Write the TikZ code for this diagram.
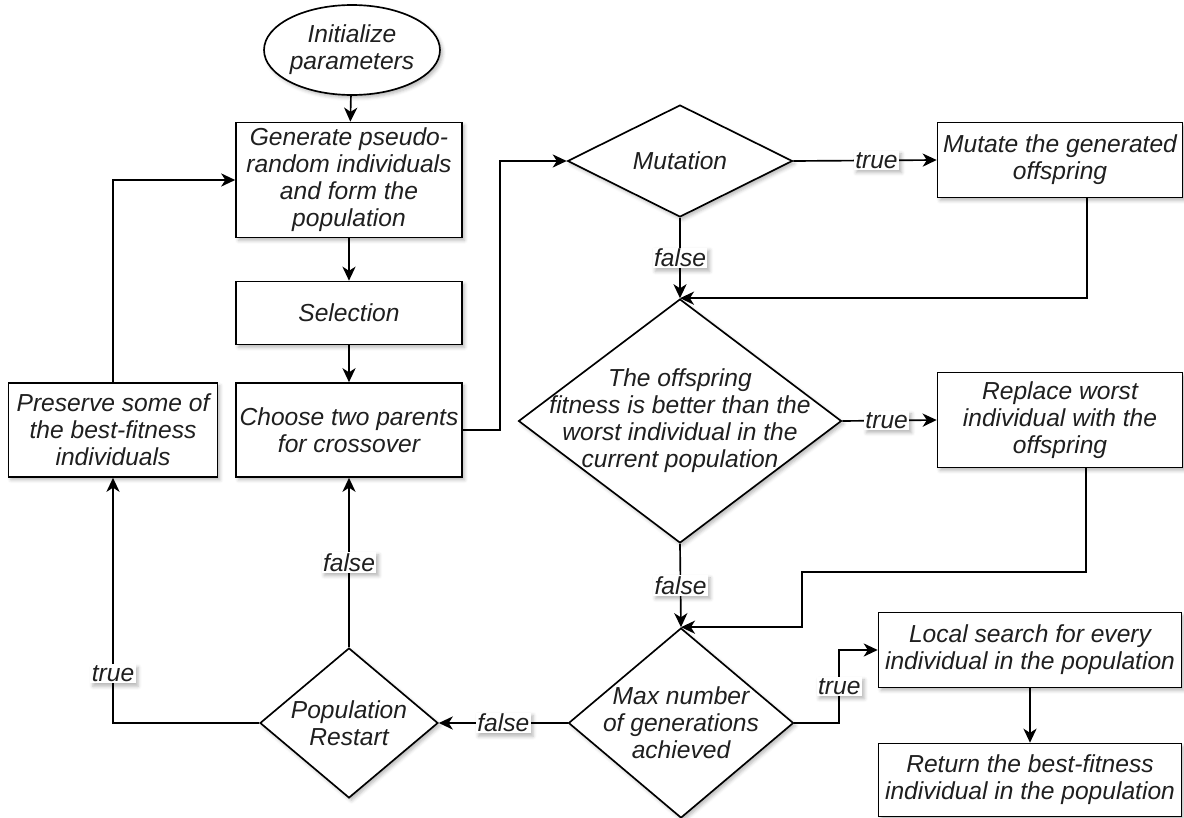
\documentclass[tikz,border=0pt]{standalone}
\usepackage{fontspec}
\setmainfont{Liberation Sans}
\usetikzlibrary{shapes.geometric,arrows.meta,shadows,shadows.blur,calc}
\begin{document}
\begin{tikzpicture}[x=0.02cm,y=-0.02cm,
  txt/.style={font=\fontsize{14}{15.4}\selectfont\itshape, text=black!88, align=center},
  shad/.style={blur shadow={shadow xshift=1.4pt, shadow yshift=-1.6pt, shadow blur radius=2pt, shadow opacity=28}},
  box/.style={draw, line width=0.95pt, fill=white, shad, txt, inner sep=0pt},
  dia/.style={draw, line width=0.95pt, fill=white, shad, diamond, inner sep=0pt},
  ell/.style={draw, line width=0.95pt, fill=white, shad, ellipse, txt, inner sep=0pt},
  arr/.style={draw, line width=0.95pt, -{Stealth[length=8pt,width=7.5pt,inset=2.4pt]}},
  lab/.style={txt, fill=white, inner sep=0.8pt, shad}
]
\useasboundingbox (0,0) rectangle (1184,818);
% nodes
\node[ell, minimum width=3.44cm, minimum height=1.8cm] (init) at (352,50) {Initialize\\parameters};
\node[box, minimum width=4.52cm, minimum height=2.3cm] (gen) at (349,180) {Generate pseudo-\\random individuals\\and form the\\population};
\node[box, minimum width=4.52cm, minimum height=1.26cm] (sel) at (349,313) {Selection};
\node[box, minimum width=4.52cm, minimum height=1.88cm] (choose) at (349,430) {Choose two parents\\for crossover};
\node[box, minimum width=4.18cm, minimum height=1.88cm] (pres) at (113,430) {Preserve some of\\the best-fitness\\individuals};
\node[dia, minimum width=3.56cm, minimum height=3.0cm, label={[txt,name=popt]center:Population\\Restart}] (pop) at (349,723) {};
\node[dia, minimum width=4.5cm, minimum height=2.24cm, label={[txt,name=mutt]center:Mutation}] (mut) at (680,161) {};
\node[box, minimum width=4.9cm, minimum height=1.5cm] (mutate) at (1060,160) {Mutate the generated\\offspring};
\node[dia, minimum width=6.46cm, minimum height=4.88cm, label={[txt,name=offt]center:The offspring\\fitness is better than the\\worst individual in the\\current population}] (off) at (680,421) {};
\node[box, minimum width=4.9cm, minimum height=1.9cm] (rep) at (1060,420) {Replace worst\\individual with the\\offspring};
\node[dia, minimum width=4.5cm, minimum height=3.8cm, label={[txt,name=maxt]center:Max number\\of generations\\achieved}] (max) at (681,723) {};
\node[box, minimum width=6.06cm, minimum height=1.5cm] (loc) at (1030,650) {Local search for every\\individual in the population};
\node[box, minimum width=6.06cm, minimum height=1.46cm] (ret) at (1030,780) {Return the best-fitness\\individual in the population};
\coordinate (r1) at (802,572);
% connectors
\draw[arr] (init) -- (gen);
\draw[arr] (gen) -- (sel);
\draw[arr] (sel) -- (choose);
\draw[arr] (choose.east) -- ++(37,0) |- (mut.west);
\draw[arr] (mut.east) -- node[lab,pos=0.58]{true} (mutate.west);
\draw[arr] (mut.south) -- node[lab]{false} (off.north);
\draw[arr] ([xshift=0.54cm]mutate.south) |- (off.north);
\draw[arr] (off.east) -- node[lab,pos=0.47]{true} (rep.west);
\draw[arr] (off.south) -- node[lab]{false} (max.north);
\draw[arr] ([xshift=0.52cm]rep.south) |- (r1) |- (max.north);
\draw[arr] (max.east) -- ++(45,0) |- node[lab,pos=0.25]{true} (loc.west);
\draw[arr] (loc) -- (ret);
\draw[arr] (max.west) -- node[lab]{false} (pop.east);
\draw[arr] (pop.north) -- node[lab]{false} (choose.south);
\draw[arr] (pop.west) -| node[lab,pos=0.6]{true} (pres.south);
\draw[arr] (pres.north) |- (gen.west);
\end{tikzpicture}
\end{document}
